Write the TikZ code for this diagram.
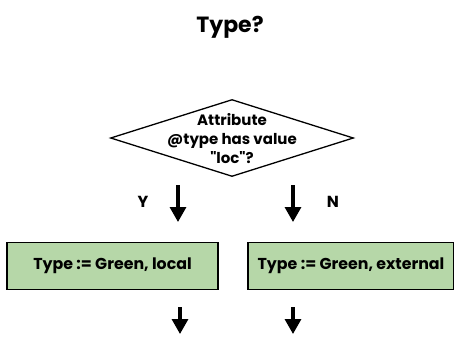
\documentclass[tikz,border=0pt]{standalone}
\usepackage{fontspec}
\setmainfont{Poppins}[Ligatures=TeXOff]
\usetikzlibrary{shapes.geometric,arrows.meta}
\definecolor{boxgreen}{RGB}{182,215,168}
\tikzset{
  txt/.style={font=\bfseries\fontsize{15}{19}\selectfont, text=black},
  decision/.style={diamond, draw=black, line width=1.3pt, inner sep=0pt, minimum width=243pt, minimum height=77pt},
  action/.style={rectangle, draw=black, line width=1.3pt, fill=boxgreen, txt, font=\bfseries\fontsize{15.8}{19}\selectfont, minimum height=47pt, inner sep=0pt},
  flowarrow/.style={line width=3.2pt, -{Triangle[width=16pt,length=15pt]}},
  lbl/.style={txt, font=\bfseries\fontsize{16}{18}\selectfont}
}
\begin{document}
\begin{tikzpicture}[x=1pt,y=-1pt]
\useasboundingbox (0,0) rectangle (454,343);
\node[font=\bfseries\fontsize{22}{26}\selectfont] (title) at (230,27) {Type?};
\node[decision] (dec) at (232,138) {};
\node[txt, align=center, inner sep=0pt] (dectext) at (232,139) {Attribute\\@type has value\\"loc"?};
\node[action, minimum width=211pt] (local) at (112.5,266) {Type := Green, local};
\node[action, minimum width=206pt] (ext) at (351,266) {Type := Green, external};
\coordinate (ya) at (178,185);
\coordinate (yb) at (178,222);
\coordinate (na) at (293,185);
\coordinate (nb) at (293,222);
\coordinate (la) at (180,307);
\coordinate (lb) at (180,334);
\coordinate (ea) at (293,307);
\coordinate (eb) at (293,334);
\draw[flowarrow] (ya) -- (yb);
\draw[flowarrow] (na) -- (nb);
\draw[flowarrow] (la) -- (lb);
\draw[flowarrow] (ea) -- (eb);
\node[lbl] (y) at (143,202) {Y};
\node[lbl] (n) at (333,202) {N};
\end{tikzpicture}
\end{document}
